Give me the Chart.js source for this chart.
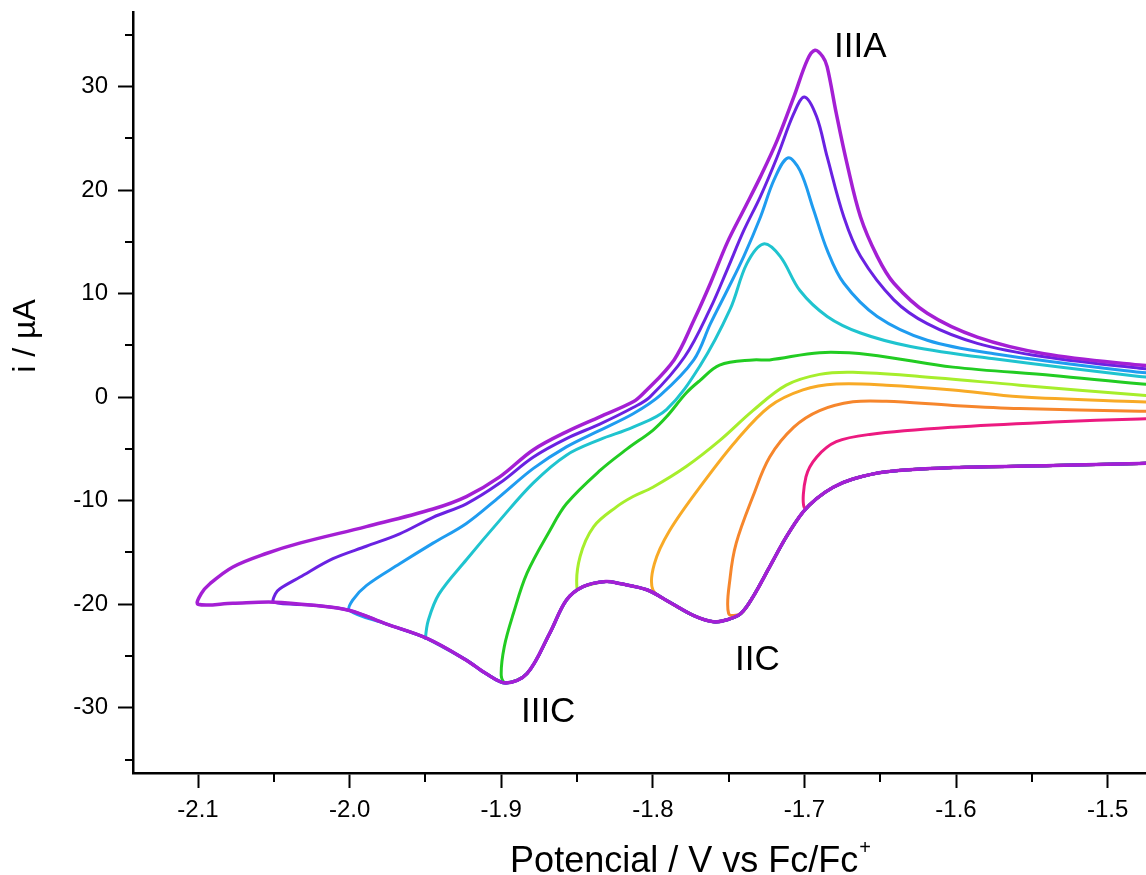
<!DOCTYPE html>
<html>
<head>
<meta charset="utf-8">
<script src="https://cdn.jsdelivr.net/npm/chart.js@4.4.1/dist/chart.umd.min.js"></script>
<style>
    html, body { margin: 0; padding: 0; background: #fff; overflow: hidden; }
    canvas { display: block; }
</style>
</head>
<body>
<canvas id="cvChart" width="1146" height="875"></canvas>
<script>
// Voltammogramas ciclicos, potencial de inversion de -1.70 a -2.10 V

// Axis ticks
const xTicks = [-2.1, -2.0, -1.9, -1.8, -1.7, -1.6, -1.5];
const xMinorTicks = [-2.05, -1.95, -1.85, -1.75, -1.65, -1.55];
const yTicks = [-30, -20, -10, 0, 10, 20, 30];
const yMinorTicks = [-35, -25, -15, -5, 5, 15, 25, 35];

// Barrido catodico comun (E / V, i / uA), de -1.465 hacia potenciales negativos
const cathodicSweep = [
    [-1.465, -6.35], [-1.479, -6.4], [-1.536, -6.6], [-1.602, -6.8], [-1.646, -7.2],
    [-1.668, -7.9], [-1.681, -8.7], [-1.692, -9.8], [-1.701, -11.1], [-1.712, -13.5],
    [-1.723, -16.4], [-1.734, -19.3], [-1.742, -20.9], [-1.751, -21.5], [-1.760, -21.7],
    [-1.773, -21.1], [-1.789, -19.8], [-1.804, -18.6], [-1.822, -18.0], [-1.831, -17.8],
    [-1.846, -18.3], [-1.857, -19.6], [-1.868, -22.8], [-1.883, -26.7], [-1.897, -27.6],
    [-1.910, -26.7], [-1.923, -25.4], [-1.949, -23.3], [-1.976, -21.9], [-2.000, -20.6],
    [-2.024, -20.1], [-2.050, -19.8], [-2.077, -19.9], [-2.100, -20.0]
];

// Barridos de regreso (anodicos), cada uno desde su potencial de inversion
const return210 = [
    [-2.100, -20.0], [-2.098, -19.0], [-2.092, -18.0], [-2.077, -16.4], [-2.055, -15.1],
    [-2.033, -14.1], [-1.989, -12.5], [-1.945, -10.8], [-1.923, -9.6], [-1.901, -7.7],
    [-1.879, -5.1], [-1.857, -3.35], [-1.835, -1.9], [-1.813, -0.45], [-1.806, 0.4],
    [-1.786, 3.6], [-1.773, 7.4], [-1.762, 11.0], [-1.751, 14.9],
    [-1.740, 18.1], [-1.729, 21.3], [-1.718, 24.8], [-1.707, 29.0], [-1.698, 32.6],
    [-1.693, 33.5], [-1.688, 32.9], [-1.685, 31.9], [-1.679, 27.4], [-1.672, 22.6],
    [-1.663, 17.4], [-1.652, 13.6], [-1.641, 11.0], [-1.619, 8.1], [-1.586, 5.8],
    [-1.542, 4.2], [-1.479, 3.1], [-1.465, 3.0]
];
const return205 = [
    [-2.050, -19.8], [-2.049, -19.0], [-2.046, -18.5], [-2.033, -17.4], [-2.011, -15.6],
    [-1.989, -14.4], [-1.967, -13.2], [-1.945, -11.6], [-1.923, -10.3], [-1.901, -8.3],
    [-1.879, -5.8], [-1.857, -4.0], [-1.835, -2.6], [-1.813, -1.0], [-1.802, 0.0],
    [-1.779, 3.9], [-1.762, 8.6], [-1.751, 12.3], [-1.740, 16.1], [-1.729, 19.4],
    [-1.718, 23.2], [-1.707, 27.4], [-1.700, 29.0], [-1.692, 27.1], [-1.685, 23.2],
    [-1.674, 17.4], [-1.663, 13.6], [-1.641, 9.4], [-1.619, 7.1], [-1.586, 5.2],
    [-1.542, 3.9], [-1.479, 2.8], [-1.465, 2.7]
];
const return200 = [
    [-2.000, -20.6], [-1.998, -19.6], [-1.989, -18.2], [-1.967, -16.1], [-1.945, -14.1],
    [-1.923, -12.2], [-1.901, -9.6], [-1.879, -6.9], [-1.857, -4.8], [-1.835, -3.2],
    [-1.813, -1.6], [-1.795, 0.2], [-1.773, 3.6], [-1.762, 7.1], [-1.751, 10.3],
    [-1.740, 13.6], [-1.729, 17.4], [-1.720, 21.0], [-1.711, 23.1], [-1.703, 21.9],
    [-1.694, 18.1], [-1.685, 14.2], [-1.674, 11.0], [-1.652, 7.8], [-1.619, 5.5],
    [-1.575, 4.2], [-1.479, 2.4], [-1.465, 2.3]
];
const return195 = [
    [-1.950, -23.3], [-1.948, -21.5], [-1.941, -19.0], [-1.923, -15.7], [-1.901, -11.9],
    [-1.879, -8.3], [-1.857, -5.6], [-1.835, -4.1], [-1.813, -2.9], [-1.791, -1.2],
    [-1.769, 3.0], [-1.749, 8.5], [-1.738, 12.9], [-1.727, 14.8], [-1.716, 13.6],
    [-1.703, 10.3], [-1.685, 7.8], [-1.663, 6.2], [-1.630, 4.9], [-1.575, 3.7],
    [-1.479, 2.0], [-1.465, 1.9]
];
const return190 = [
    [-1.900, -26.9], [-1.898, -24.1], [-1.892, -20.9], [-1.883, -17.0], [-1.868, -12.9],
    [-1.857, -10.3], [-1.835, -7.1], [-1.817, -5.0], [-1.800, -3.2], [-1.791, -1.9],
    [-1.778, 0.4], [-1.769, 1.6], [-1.756, 3.1], [-1.734, 3.6], [-1.723, 3.6],
    [-1.690, 4.3], [-1.657, 4.1], [-1.602, 2.9], [-1.536, 2.1], [-1.479, 1.3], [-1.465, 1.2]
];
const return185 = [
    [-1.850, -18.5], [-1.848, -15.4], [-1.839, -12.5], [-1.824, -10.6], [-1.813, -9.6],
    [-1.800, -8.7], [-1.778, -6.7], [-1.756, -4.2], [-1.734, -1.3], [-1.712, 1.16],
    [-1.690, 2.2], [-1.668, 2.4], [-1.624, 2.0], [-1.558, 1.16], [-1.479, 0.2], [-1.465, 0.1]
];
const return180 = [
    [-1.800, -18.6], [-1.799, -16.1], [-1.789, -12.9], [-1.767, -8.3], [-1.745, -4.2],
    [-1.723, -0.9], [-1.701, 0.7], [-1.679, 1.26], [-1.646, 1.16], [-1.602, 0.7],
    [-1.558, 0.03], [-1.479, -0.45], [-1.465, -0.5]
];
const return175 = [
    [-1.750, -20.9], [-1.749, -17.4], [-1.745, -14.1], [-1.734, -9.6], [-1.723, -5.8],
    [-1.707, -2.9], [-1.690, -1.3], [-1.668, -0.45], [-1.646, -0.4], [-1.602, -0.8],
    [-1.558, -1.1], [-1.479, -1.35], [-1.465, -1.4]
];
const return170 = [
    [-1.700, -10.7], [-1.699, -7.7], [-1.692, -5.8], [-1.679, -4.3], [-1.657, -3.6],
    [-1.602, -2.9], [-1.536, -2.4], [-1.479, -2.1], [-1.465, -2.05]
];

// Potenciales de inversion y colores (el primero se dibuja encima)
const switchPotentials = [-2.10, -2.05, -2.00, -1.95, -1.90, -1.85, -1.80, -1.75, -1.70];
const returnSweeps = [return210, return205, return200, return195, return190, return185, return180, return175, return170];
const curveColors = ['#a41fd4', '#6a22e2', '#1f9cf0', '#1fc4cf', '#22cc22', '#a6ee2c', '#f8aa26', '#f6862c', '#ec1a80'];

const FONT = "'Liberation Sans', Arial, sans-serif";

function buildLoop(i) {
    const eSw = switchPotentials[i];
    const pts = cathodicSweep.filter(p => p[0] > eSw).concat(returnSweeps[i]);
    return pts.map(p => ({ x: p[0], y: p[1] }));
}

const datasets = switchPotentials.map((e, i) => ({
    label: e.toFixed(2) + ' V',
    data: buildLoop(i),
    borderColor: curveColors[i],
    borderWidth: i === 0 ? 3.5 : 3,
    pointRadius: 0,
    showLine: true,
    fill: false,
    tension: 0.35
}));

// Etiquetas de los picos
const peakLabels = [
    { text: 'IIIA', x: -1.6805, y: 32.85 },
    { text: 'IIC', x: -1.7458, y: -26.4 },
    { text: 'IIIC', x: -1.887, y: -31.4 }
];

const minorTicks = {
    id: 'minorTicks',
    afterDraw(chart) {
        const { ctx, chartArea, scales: { x, y } } = chart;
        ctx.save();
        ctx.strokeStyle = '#000';
        ctx.lineWidth = 2;
        xMinorTicks.forEach(v => {
            const px = Math.round(x.getPixelForValue(v));
            ctx.beginPath();
            ctx.moveTo(px, chartArea.bottom);
            ctx.lineTo(px, chartArea.bottom + 9);
            ctx.stroke();
        });
        yMinorTicks.forEach(v => {
            const py = Math.round(y.getPixelForValue(v));
            ctx.beginPath();
            ctx.moveTo(chartArea.left, py);
            ctx.lineTo(chartArea.left - 8, py);
            ctx.stroke();
        });
        ctx.restore();
    }
};

const textLayer = {
    id: 'textLayer',
    afterDraw(chart) {
        const { ctx, scales: { x, y } } = chart;
        ctx.save();
        ctx.fillStyle = '#000';
        ctx.textBaseline = 'alphabetic';

        // peak labels
        ctx.font = '35px ' + FONT;
        ctx.textAlign = 'left';
        peakLabels.forEach(l => ctx.fillText(l.text, x.getPixelForValue(l.x), y.getPixelForValue(l.y)));

        // x axis title with superscript
        const main = 'Potencial / V vs Fc/Fc';
        ctx.font = '36px ' + FONT;
        const wMain = ctx.measureText(main).width;
        ctx.font = '20px ' + FONT;
        const wSup = ctx.measureText('+').width;
        const left = 690 - (wMain + wSup) / 2;
        ctx.font = '36px ' + FONT;
        ctx.fillText(main, left, 872);
        ctx.font = '20px ' + FONT;
        ctx.fillText('+', left + wMain + 1, 854);

        // y axis title
        ctx.translate(35, 336);
        ctx.rotate(-Math.PI / 2);
        ctx.font = '32px ' + FONT;
        ctx.textAlign = 'center';
        ctx.fillText('i / \u00b5A', 0, 0);
        ctx.restore();
    }
};

const ctx = document.getElementById('cvChart').getContext('2d');
const cvChart = new Chart(ctx, {
    type: 'scatter',
    data: { datasets: datasets },
    options: {
        responsive: false,
        animation: false,
        layout: { padding: { top: 12, right: 0, bottom: 0, left: 0 } },
        plugins: {
            legend: { display: false },
            tooltip: { enabled: false }
        },
        scales: {
            x: {
                type: 'linear',
                position: 'bottom',
                min: -2.1429,
                max: -1.4747,
                afterBuildTicks: s => { s.ticks = xTicks.map(v => ({ value: v })); },
                afterFit: s => { s.height = 102; s.paddingLeft = 0; s.paddingRight = 0; },
                grid: { drawOnChartArea: false, drawTicks: true, tickLength: 15, tickWidth: 2, tickColor: '#000' },
                border: { display: true, color: '#000', width: 2.5 },
                ticks: {
                    color: '#000',
                    padding: 8,
                    maxRotation: 0,
                    autoSkip: false,
                    font: { family: FONT, size: 24 },
                    callback: v => Number(v).toFixed(1)
                }
            },
            y: {
                type: 'linear',
                position: 'left',
                min: -36.3,
                max: 37.2,
                afterBuildTicks: s => { s.ticks = yTicks.map(v => ({ value: v })); },
                afterFit: s => { s.width = 133; s.paddingTop = 0; s.paddingBottom = 0; },
                grid: { drawOnChartArea: false, drawTicks: true, tickLength: 15, tickWidth: 2, tickColor: '#000' },
                border: { display: true, color: '#000', width: 2.5 },
                ticks: {
                    color: '#000',
                    padding: 10,
                    autoSkip: false,
                    font: { family: FONT, size: 24 },
                    callback: v => String(v)
                }
            }
        }
    },
    plugins: [minorTicks, textLayer]
});
</script>
</body>
</html>
